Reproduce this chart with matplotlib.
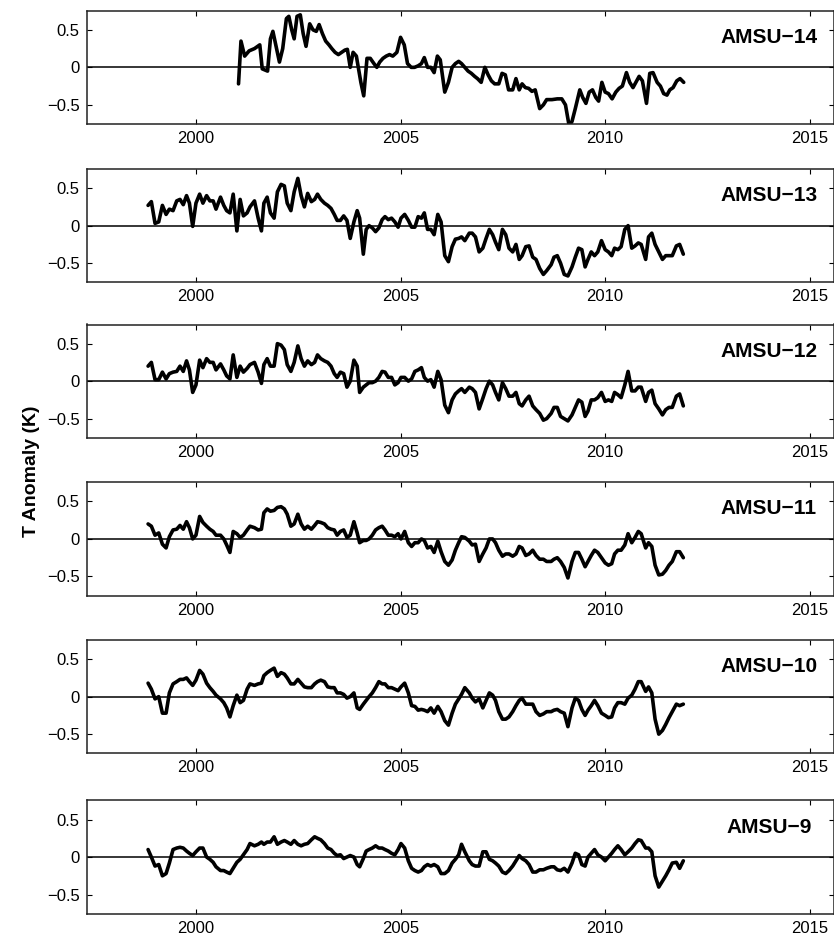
import numpy as np
import matplotlib
matplotlib.use("Agg")
import matplotlib.pyplot as plt

plt.rcParams['font.family'] = ['Liberation Sans', 'DejaVu Sans']

# ---- data -------------------------------------------------------------
years = [
    1998.83, 1998.91, 1999.00, 1999.09, 1999.18, 1999.27, 1999.35, 1999.44, 1999.53, 1999.61,
    1999.69, 1999.77, 1999.84, 1999.92, 2000.00, 2000.09, 2000.17, 2000.26, 2000.34, 2000.42,
    2000.49, 2000.60, 2000.68, 2000.75, 2000.83, 2000.91, 2001.00, 2001.08, 2001.16, 2001.25,
    2001.32, 2001.43, 2001.52, 2001.60, 2001.66, 2001.74, 2001.82, 2001.91, 2001.99, 2002.08,
    2002.16, 2002.23, 2002.32, 2002.40, 2002.49, 2002.57, 2002.65, 2002.73, 2002.82, 2002.90,
    2002.97, 2003.05, 2003.14, 2003.22, 2003.30, 2003.38, 2003.45, 2003.53, 2003.61, 2003.69,
    2003.77, 2003.86, 2003.94, 2004.00, 2004.09, 2004.16, 2004.23, 2004.31, 2004.39, 2004.47,
    2004.55, 2004.62, 2004.70, 2004.78, 2004.86, 2004.94, 2005.01, 2005.10, 2005.19, 2005.27,
    2005.35, 2005.43, 2005.51, 2005.58, 2005.66, 2005.74, 2005.82, 2005.91, 2005.99, 2006.08,
    2006.17, 2006.26, 2006.34, 2006.42, 2006.49, 2006.57, 2006.68, 2006.75, 2006.83, 2006.92,
    2007.01, 2007.09, 2007.17, 2007.25, 2007.32, 2007.40, 2007.49, 2007.57, 2007.65, 2007.74,
    2007.82, 2007.90, 2007.97, 2008.06, 2008.14, 2008.23, 2008.31, 2008.40, 2008.49, 2008.57,
    2008.68, 2008.75, 2008.83, 2008.91, 2009.00, 2009.09, 2009.19, 2009.27, 2009.35, 2009.43,
    2009.51, 2009.58, 2009.66, 2009.74, 2009.82, 2009.91, 2010.00, 2010.08, 2010.16, 2010.23,
    2010.31, 2010.39, 2010.48, 2010.56, 2010.65, 2010.73, 2010.81, 2010.88, 2010.99, 2011.06,
    2011.14, 2011.22, 2011.31, 2011.40, 2011.48, 2011.56, 2011.64, 2011.74, 2011.82, 2011.91,
]

years_14 = [
    2001.04, 2001.10, 2001.19, 2001.30, 2001.43, 2001.56, 2001.62, 2001.75, 2001.82, 2001.88,
    2001.95, 2002.04, 2002.12, 2002.21, 2002.27, 2002.34, 2002.40, 2002.47, 2002.55, 2002.62,
    2002.69, 2002.78, 2002.86, 2002.94, 2003.01, 2003.09, 2003.17, 2003.25, 2003.32, 2003.40,
    2003.48, 2003.56, 2003.64, 2003.70, 2003.77, 2003.84, 2003.92, 2004.03, 2004.10, 2004.18,
    2004.26, 2004.35, 2004.42, 2004.49, 2004.57, 2004.65, 2004.73, 2004.81, 2004.91, 2005.00,
    2005.09, 2005.17, 2005.26, 2005.34, 2005.43, 2005.51, 2005.58, 2005.66, 2005.74, 2005.82,
    2005.90, 2005.97, 2006.08, 2006.17, 2006.26, 2006.34, 2006.42, 2006.49, 2006.57, 2006.65,
    2006.73, 2006.81, 2006.88, 2006.97, 2007.06, 2007.14, 2007.22, 2007.30, 2007.40, 2007.48,
    2007.56, 2007.64, 2007.74, 2007.82, 2007.90, 2007.97, 2008.05, 2008.13, 2008.21, 2008.29,
    2008.40, 2008.49, 2008.57, 2008.70, 2008.83, 2008.94, 2009.03, 2009.12, 2009.19, 2009.27,
    2009.38, 2009.45, 2009.53, 2009.61, 2009.69, 2009.77, 2009.84, 2009.92, 2010.00, 2010.08,
    2010.17, 2010.26, 2010.34, 2010.42, 2010.52, 2010.60, 2010.68, 2010.75, 2010.83, 2010.91,
    2011.01, 2011.09, 2011.17, 2011.27, 2011.35, 2011.43, 2011.51, 2011.58, 2011.66, 2011.75,
    2011.83, 2011.92,
]

amsu14 = [
    -0.22, 0.35, 0.15, 0.22, 0.25, 0.30, -0.02, -0.05, 0.38, 0.48,
    0.30, 0.07, 0.25, 0.65, 0.68, 0.50, 0.38, 0.68, 0.70, 0.45,
    0.28, 0.58, 0.50, 0.48, 0.57, 0.45, 0.35, 0.30, 0.25, 0.20,
    0.17, 0.20, 0.23, 0.24, 0.00, 0.20, 0.15, -0.20, -0.38, 0.12,
    0.12, 0.05, 0.00, 0.07, 0.12, 0.15, 0.17, 0.15, 0.20, 0.40,
    0.30, 0.05, 0.00, 0.00, 0.02, 0.05, 0.13, 0.00, 0.00, -0.07,
    0.15, 0.10, -0.33, -0.20, 0.00, 0.05, 0.08, 0.05, 0.00, -0.05,
    -0.08, -0.12, -0.15, -0.20, 0.00, -0.10, -0.18, -0.22, -0.22, -0.08,
    -0.10, -0.30, -0.30, -0.15, -0.30, -0.22, -0.27, -0.28, -0.32, -0.30,
    -0.55, -0.50, -0.43, -0.43, -0.42, -0.42, -0.50, -0.78, -0.72, -0.55,
    -0.30, -0.40, -0.48, -0.33, -0.30, -0.40, -0.45, -0.20, -0.33, -0.35,
    -0.42, -0.33, -0.28, -0.25, -0.07, -0.20, -0.27, -0.20, -0.12, -0.18,
    -0.48, -0.08, -0.07, -0.20, -0.25, -0.35, -0.37, -0.30, -0.27, -0.18,
    -0.15, -0.20,
]

amsu13 = [
    0.27, 0.32, 0.03, 0.05, 0.27, 0.15, 0.22, 0.20, 0.33, 0.35,
    0.28, 0.40, 0.30, -0.01, 0.30, 0.42, 0.30, 0.40, 0.33, 0.33,
    0.22, 0.38, 0.27, 0.20, 0.17, 0.42, -0.07, 0.35, 0.13, 0.17,
    0.25, 0.33, 0.10, -0.07, 0.30, 0.38, 0.17, 0.10, 0.45, 0.55,
    0.53, 0.30, 0.20, 0.45, 0.63, 0.40, 0.25, 0.43, 0.32, 0.35,
    0.42, 0.35, 0.30, 0.27, 0.23, 0.15, 0.07, 0.07, 0.13, 0.07,
    -0.17, 0.05, 0.20, 0.10, -0.38, -0.05, 0.00, -0.03, -0.08, -0.03,
    0.08, 0.12, 0.08, 0.10, 0.05, -0.02, 0.10, 0.15, 0.07, -0.02,
    -0.02, 0.12, 0.10, 0.17, -0.05, -0.05, -0.12, 0.15, 0.05, -0.40,
    -0.48, -0.28, -0.18, -0.17, -0.15, -0.20, -0.10, -0.10, -0.15, -0.35,
    -0.30, -0.17, -0.05, -0.12, -0.22, -0.32, -0.05, -0.12, -0.30, -0.35,
    -0.25, -0.45, -0.40, -0.28, -0.27, -0.42, -0.45, -0.57, -0.65, -0.60,
    -0.52, -0.42, -0.40, -0.50, -0.65, -0.67, -0.55, -0.42, -0.30, -0.32,
    -0.55, -0.45, -0.35, -0.40, -0.35, -0.20, -0.32, -0.35, -0.40, -0.30,
    -0.32, -0.28, -0.05, 0.00, -0.30, -0.27, -0.23, -0.25, -0.45, -0.15,
    -0.10, -0.25, -0.35, -0.45, -0.40, -0.40, -0.40, -0.27, -0.25, -0.38,
]

amsu12 = [
    0.20, 0.25, 0.02, 0.02, 0.12, 0.03, 0.10, 0.12, 0.13, 0.20,
    0.13, 0.27, 0.15, -0.15, -0.05, 0.28, 0.18, 0.30, 0.25, 0.25,
    0.15, 0.23, 0.15, 0.07, 0.03, 0.35, 0.05, 0.20, 0.12, 0.17,
    0.22, 0.25, 0.12, -0.03, 0.22, 0.30, 0.20, 0.20, 0.50, 0.48,
    0.42, 0.22, 0.13, 0.25, 0.47, 0.30, 0.20, 0.27, 0.22, 0.25,
    0.35, 0.30, 0.27, 0.25, 0.20, 0.10, 0.05, 0.12, 0.10, -0.08,
    0.00, 0.28, 0.20, -0.15, -0.08, -0.05, -0.02, -0.02, 0.00, 0.05,
    0.13, 0.12, 0.05, 0.05, -0.05, -0.02, 0.05, 0.05, 0.00, 0.03,
    0.13, 0.15, 0.18, 0.05, 0.00, 0.02, -0.08, 0.13, 0.02, -0.32,
    -0.42, -0.25, -0.17, -0.13, -0.10, -0.15, -0.08, -0.10, -0.15, -0.37,
    -0.23, -0.10, 0.00, -0.05, -0.15, -0.25, -0.02, -0.10, -0.20, -0.20,
    -0.15, -0.30, -0.33, -0.25, -0.20, -0.33, -0.38, -0.43, -0.52, -0.50,
    -0.43, -0.35, -0.35, -0.47, -0.50, -0.53, -0.45, -0.35, -0.25, -0.28,
    -0.47, -0.40, -0.25, -0.25, -0.22, -0.15, -0.27, -0.25, -0.27, -0.15,
    -0.18, -0.22, -0.05, 0.13, -0.13, -0.13, -0.08, -0.08, -0.27, -0.15,
    -0.12, -0.30, -0.37, -0.45, -0.38, -0.35, -0.35, -0.20, -0.17, -0.33,
]

amsu11 = [
    0.20, 0.17, 0.05, 0.08, -0.07, -0.12, 0.03, 0.12, 0.13, 0.18,
    0.13, 0.23, 0.15, 0.00, 0.05, 0.30, 0.22, 0.17, 0.13, 0.10,
    0.05, 0.05, 0.00, -0.08, -0.18, 0.10, 0.07, 0.02, 0.05, 0.12,
    0.17, 0.15, 0.12, 0.13, 0.35, 0.40, 0.37, 0.38, 0.42, 0.43,
    0.40, 0.33, 0.17, 0.20, 0.33, 0.20, 0.13, 0.17, 0.13, 0.18,
    0.23, 0.22, 0.20, 0.15, 0.13, 0.12, 0.05, 0.10, 0.12, 0.02,
    0.05, 0.23, 0.08, -0.05, -0.02, -0.02, 0.00, 0.05, 0.12, 0.15,
    0.17, 0.12, 0.05, 0.05, 0.03, 0.07, 0.00, 0.10, -0.05, -0.10,
    -0.05, -0.05, 0.00, -0.02, -0.12, -0.10, -0.18, -0.03, -0.17, -0.30,
    -0.35, -0.28, -0.15, -0.05, 0.03, 0.02, -0.03, -0.08, -0.07, -0.30,
    -0.20, -0.12, 0.00, 0.00, -0.05, -0.15, -0.23, -0.20, -0.20, -0.23,
    -0.20, -0.10, -0.12, -0.22, -0.20, -0.15, -0.22, -0.27, -0.27, -0.30,
    -0.30, -0.27, -0.25, -0.30, -0.38, -0.52, -0.30, -0.18, -0.18, -0.27,
    -0.37, -0.30, -0.22, -0.15, -0.18, -0.25, -0.32, -0.35, -0.33, -0.20,
    -0.15, -0.15, -0.08, 0.07, -0.05, 0.02, 0.10, 0.07, -0.12, -0.05,
    -0.10, -0.35, -0.48, -0.47, -0.42, -0.35, -0.30, -0.17, -0.17, -0.25,
]

amsu10 = [
    0.18, 0.10, -0.03, 0.00, -0.22, -0.22, 0.05, 0.17, 0.20, 0.23,
    0.23, 0.25, 0.20, 0.15, 0.22, 0.35, 0.30, 0.18, 0.12, 0.07,
    0.02, -0.03, -0.08, -0.15, -0.27, -0.12, 0.02, -0.08, -0.05, 0.10,
    0.17, 0.15, 0.17, 0.18, 0.28, 0.32, 0.35, 0.38, 0.27, 0.32,
    0.30, 0.25, 0.17, 0.17, 0.23, 0.18, 0.13, 0.12, 0.12, 0.17,
    0.20, 0.22, 0.20, 0.13, 0.12, 0.12, 0.05, 0.05, 0.03, -0.02,
    0.00, 0.05, -0.15, -0.17, -0.10, -0.05, 0.00, 0.05, 0.12, 0.20,
    0.17, 0.17, 0.12, 0.12, 0.10, 0.08, 0.13, 0.18, 0.05, -0.12,
    -0.13, -0.18, -0.17, -0.18, -0.20, -0.15, -0.22, -0.13, -0.20, -0.32,
    -0.38, -0.22, -0.10, -0.03, 0.03, 0.12, 0.05, -0.02, -0.07, -0.03,
    -0.15, -0.05, 0.05, 0.02, -0.05, -0.20, -0.30, -0.30, -0.27, -0.20,
    -0.12, -0.05, -0.02, -0.10, -0.10, -0.10, -0.20, -0.25, -0.23, -0.20,
    -0.20, -0.18, -0.17, -0.20, -0.22, -0.40, -0.15, -0.02, -0.05, -0.17,
    -0.25, -0.18, -0.12, -0.05, -0.12, -0.22, -0.25, -0.28, -0.27, -0.15,
    -0.08, -0.08, -0.10, -0.02, 0.02, 0.10, 0.20, 0.20, 0.07, 0.13,
    0.05, -0.30, -0.50, -0.45, -0.37, -0.28, -0.20, -0.10, -0.12, -0.10,
]

amsu9 = [
    0.10, 0.00, -0.12, -0.10, -0.25, -0.22, -0.08, 0.10, 0.12, 0.13,
    0.12, 0.08, 0.05, 0.02, 0.07, 0.12, 0.12, 0.00, -0.03, -0.07,
    -0.13, -0.18, -0.18, -0.20, -0.22, -0.15, -0.07, -0.03, 0.03, 0.10,
    0.18, 0.15, 0.17, 0.20, 0.17, 0.20, 0.20, 0.27, 0.17, 0.20,
    0.22, 0.20, 0.17, 0.22, 0.17, 0.15, 0.17, 0.18, 0.23, 0.27,
    0.25, 0.23, 0.18, 0.12, 0.10, 0.05, 0.02, 0.03, -0.02, 0.00,
    0.02, 0.00, -0.10, -0.13, -0.02, 0.08, 0.10, 0.12, 0.15, 0.12,
    0.12, 0.10, 0.08, 0.05, 0.03, 0.10, 0.18, 0.12, -0.05, -0.15,
    -0.18, -0.20, -0.18, -0.13, -0.10, -0.12, -0.10, -0.13, -0.22, -0.22,
    -0.18, -0.08, -0.03, 0.03, 0.17, 0.07, -0.05, -0.10, -0.12, -0.12,
    0.07, 0.07, -0.03, -0.05, -0.08, -0.12, -0.20, -0.22, -0.18, -0.12,
    -0.05, 0.02, -0.02, -0.05, -0.10, -0.20, -0.20, -0.17, -0.17, -0.15,
    -0.13, -0.13, -0.17, -0.18, -0.15, -0.20, -0.08, 0.05, 0.03, -0.10,
    -0.12, 0.00, 0.05, 0.10, 0.03, 0.00, -0.05, 0.00, 0.05, 0.10,
    0.15, 0.10, 0.03, 0.07, 0.12, 0.18, 0.23, 0.22, 0.12, 0.12,
    0.07, -0.25, -0.40, -0.32, -0.25, -0.17, -0.08, -0.07, -0.15, -0.05,
]

labels = ["AMSU\u221214", "AMSU\u221213", "AMSU\u221212",
          "AMSU\u221211", "AMSU\u221210", "AMSU\u22129"]
series_x = [years_14, years, years, years, years, years]
series_y = [amsu14, amsu13, amsu12, amsu11, amsu10, amsu9]

x_ticks = [2000, 2005, 2010, 2015]
y_ticks = [-0.5, 0, 0.5]
y_tick_labels = ["\u22120.5", "0", "0.5"]

# ---- figure -----------------------------------------------------------
W, H = 834, 936
fig = plt.figure(figsize=(W / 100, H / 100), dpi=100)

left_px, right_px = 86.7, 833.5
panel_tops = [10.7, 169.0, 324.5, 482.3, 640.0, 800.4]
panel_h = 113.3

for i in range(6):
    xs, ys = series_x[i], series_y[i]
    assert len(xs) == len(ys), (labels[i], len(xs), len(ys))
    top = panel_tops[i]
    ax = fig.add_axes([left_px / W, 1 - (top + panel_h) / H,
                       (right_px - left_px) / W, panel_h / H])
    ax.axhline(0, color='black', lw=1.1, zorder=1)
    ax.plot(xs, ys, color='black', lw=2.6, solid_joinstyle='round',
            solid_capstyle='round', zorder=2)
    ax.set_xlim(1997.33, 2015.58)
    ax.set_ylim(-0.755, 0.755)
    ax.set_xticks(x_ticks)
    ax.set_xticklabels([str(t) for t in x_ticks])
    ax.set_yticks(y_ticks)
    ax.set_yticklabels(y_tick_labels)
    ax.tick_params(direction='in', length=3.5, width=0.8, top=True, right=True,
                   labelsize=12, pad=5, colors='black')
    for sp in ax.spines.values():
        sp.set_linewidth(1.1)
        sp.set_color('#222222')
    ax.text(2014.0, 0.40, labels[i], ha='center', va='center',
            fontsize=15, fontweight='bold')

fig.text(32 / W, 1 - 471 / H, "T Anomaly (K)", rotation=90,
         ha='center', va='center', fontsize=14, fontweight='bold')

fig.savefig("out.png", dpi=100)
